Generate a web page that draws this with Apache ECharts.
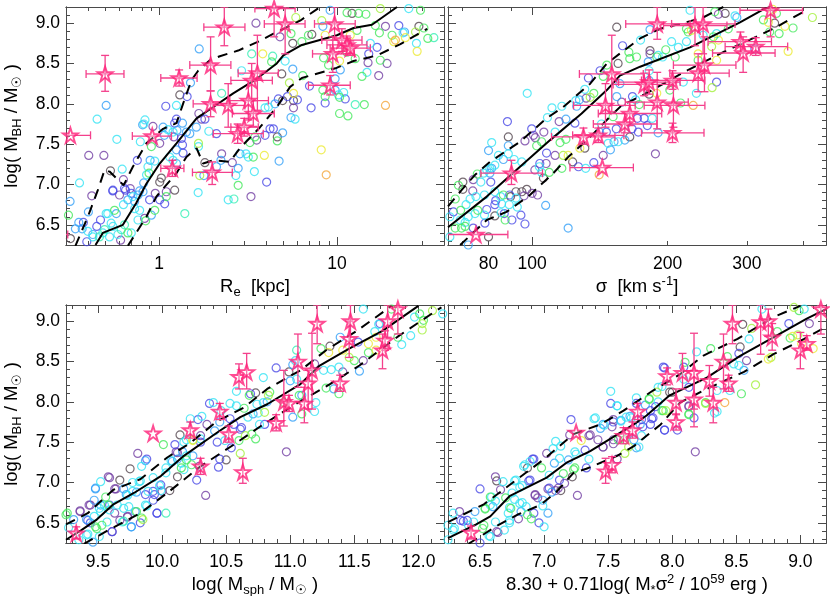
<!DOCTYPE html>
<html>
<head>
<meta charset="utf-8">
<script src="https://cdn.jsdelivr.net/npm/echarts@6/dist/echarts.min.js"></script>
<style>
html, body { margin: 0; padding: 0; background: #fff; }
#main { width: 830px; height: 596px; }
</style>
</head>
<body>
<div id="main"></div>
<script>
// colour classes of the open circles, dark to orange
var circleColors = ['#54464f', '#7340a4', '#4a4ae6', '#35a0f8', '#35e4f4', '#35efb4', '#45e85c', '#a4f03c', '#ecea34', '#f4a83c'];

// circles: [x, log MBH, colour index]. x is log10 for the Re and sigma panels
var reCircles = [
[.226,8.68,3],[.545,9.0,1],[.68,8.83,1],[.752,8.75,0],[.859,8.86,0],[.769,9.07,7],[.742,8.87,6],[.803,8.77,6],[.84,8.85,6],[.521,8.62,5],
[.583,8.62,8],[.639,8.59,5],[.633,8.52,6],[.709,8.53,4],[.69,8.37,0],[.752,8.43,3],[.808,8.35,6],[.733,8.26,7],[.464,8.41,4],[.352,8.13,5],
[.177,8.26,3],[.117,8.11,0],[.158,8.09,2],[.038,7.97,2],[.098,7.98,4],[-.297,7.98,3],[-.348,7.81,4],[-.237,7.56,4],[-.395,7.36,1],[-.31,7.36,1],
[-.273,7.17,0],[-.447,7.02,4],[-.207,7.19,4],[-.378,6.86,1],[-.5,6.79,3],[-.397,6.66,3],[-.509,6.62,6],[-.451,6.53,3],[-.425,6.53,2],[-.47,6.45,3],
[-.432,6.45,3],[-.35,6.48,2],[-.329,6.56,2],[-.498,6.33,0],[-.406,6.29,2],[-.372,6.38,3],[-.297,6.64,4],[-.25,6.68,6],[-.24,6.64,3],[-.26,6.92,2],
[-.2,7.06,1],[-.188,6.93,2],[-.162,6.95,1],[-.222,6.87,1],[-.175,6.81,3],[-.2,6.75,4],[-.147,6.85,4],[-.118,6.87,3],[-.09,6.91,3],[-.086,7.02,3],
[-.056,7.14,6],[-.07,7.12,4],[-.122,7.3,2],[-.062,7.22,4],[-.024,7.29,4],[-.05,7.3,3],[-.085,7.75,4],[-.092,7.74,3],[-.079,7.8,4],[-.105,7.53,4],
[-.034,7.72,1],[-.043,7.47,6],[.004,7.51,1],[.023,7.71,3],[.05,7.68,4],[.03,7.61,3],[.088,7.76,2],[.098,7.81,2],[.079,7.65,4],[.101,7.67,3],
[.132,7.76,3],[.083,7.59,1],[.154,7.65,3],[.126,7.57,2],[.173,7.63,3],[.132,7.49,2],[.135,7.39,2],[.098,7.43,3],[.06,7.34,4],[.098,7.26,3],
[.079,7.3,4],[.21,7.71,3],[.224,7.88,1],[.258,7.81,2],[.239,7.81,1],[.222,7.51,7],[.222,7.47,4],[.28,7.66,4],[.323,7.63,2],[.352,7.38,1],
[.258,7.27,0],[.229,7.11,7],[.252,7.11,3],[.323,7.22,3],[.348,7.3,3],[.412,7.27,1],[.445,7.2,3],[.432,7.11,4],[.445,6.99,6],[.22,6.9,4],
[.389,6.81,4],[.421,6.82,5],[.517,6.85,1],[.605,7.03,2],[.675,7.29,3],[.536,7.16,4],[.53,7.34,6],[.502,7.34,4],[.489,7.38,4],[.455,7.38,3],
[.592,7.36,8],[.665,7.59,0],[.665,7.54,6],[.695,7.64,3],[.596,7.61,2],[.643,7.69,2],[.624,7.69,2],[.549,7.55,1],[.511,7.52,6],[.539,7.59,6],
[.596,7.95,4],[.615,7.96,4],[.652,8.0,3],[.671,8.06,2],[.695,8.04,0],[.722,8.09,2],[.756,8.04,0],[.756,8.13,8],[.778,8.05,2],[.756,7.95,1],
[.742,7.83,3],[.765,7.81,4],[.855,7.95,2],[.846,8.22,2],[.934,8.01,2],[.921,8.17,6],[.934,8.09,6],[.99,8.31,3],[.99,8.17,3],[1.009,8.11,4],
[1.015,8.08,6],[1.047,8.06,2],[1.038,8.14,4],[1.103,7.99,5],[1.154,7.99,6],[1.015,7.88,6],[1.062,7.85,6],[1.273,7.98,9],[.912,7.43,8],[.94,7.12,9],
[1.019,8.42,3],[.953,8.48,6],[.925,8.57,6],[1.015,8.53,8],[.962,9.16,3],[.915,9.03,7],[.921,8.96,3],[.934,8.85,8],[1.085,9.12,0],[1.057,9.13,6],
[1.122,9.12,6],[1.163,9.11,6],[1.113,8.91,6],[1.075,8.85,8],[1.216,8.97,6],[1.273,8.96,1],[1.348,8.97,2],[1.239,8.88,6],[1.31,8.85,6],[1.38,8.89,3],
[1.372,8.88,4],[1.461,8.96,0],[1.442,8.89,7],[1.489,8.94,6],[1.511,8.81,6],[1.545,8.82,5],[1.447,8.75,4],[1.451,8.65,8],[1.385,8.82,8],[1.32,8.77,8],
[1.329,8.79,9],[1.244,8.54,6],[1.282,8.5,1],[1.175,8.51,1],[1.235,8.35,1],[1.169,8.39,4],[1.141,8.34,6],[1.226,8.7,2],[1.179,8.62,2],[1.188,8.75,4],
[1.103,8.56,6],[1.056,8.64,6],[1.404,9.18,4],[1.47,9.16,6],[1.244,9.18,7],[-.259,6.93,2],[-.194,6.95,2],[-.156,6.89,2],[-.109,6.92,3],[-.137,6.79,3],
[-.109,6.68,4],[-.137,6.7,4],[-.288,6.64,4],[-.4,6.42,4],[-.372,6.35,4],[-.316,6.4,4],[-.259,6.48,4],[-.269,6.52,4],[-.212,6.44,5],[-.194,6.5,5],
[-.231,6.38,4],[-.278,6.35,4],[-.216,6.31,1],[-.175,6.4,6],[-.156,6.4,4],[-.118,6.56,4],[-.075,6.55,6],[-.024,6.68,6],[-.043,6.62,3],[.032,6.76,2],
[-.053,6.81,2],[-.021,6.89,1],[.004,6.81,2],[.041,6.85,6],[.088,6.93,0],[.041,6.91,1],[.013,7.08,0],[.004,7.03,0],[.145,6.64,5],[-.306,6.44,5],
[-.335,6.35,5],[-.081,6.58,1]
];

var sigmaCircles = [
[2.188,8.95,0],[2.262,8.92,3],[2.241,8.79,4],[2.201,8.72,2],[2.262,8.66,0],[2.262,8.62,1],[2.215,8.64,6],[2.217,8.56,6],[2.232,8.58,6],[2.258,8.52,3],
[2.277,8.58,6],[2.29,8.58,4],[2.297,8.67,6],[2.31,8.77,4],[2.325,8.7,4],[2.343,8.77,4],[2.318,8.58,6],[2.28,8.6,4],[2.191,8.5,0],[2.166,8.48,6],
[2.151,8.41,2],[2.158,8.34,6],[2.125,8.32,2],[2.26,8.41,4],[2.26,8.29,3],[2.195,8.25,3],[2.117,8.18,4],[2.137,8.13,6],[2.12,8.07,1],[2.129,8.08,7],
[1.989,8.13,4],[2.097,8.04,4],[2.105,8.05,3],[2.099,7.97,3],[2.066,7.97,4],[2.044,7.95,4],[2.034,7.83,4],[2.075,7.81,3],[2.06,7.78,1],[2.095,7.76,2],
[1.945,7.78,2],[1.999,7.69,2],[2.026,7.65,1],[2.003,7.61,1],[2.007,7.58,1],[2.051,7.65,4],[1.947,7.59,0],[1.91,7.52,4],[1.947,7.48,3],[1.984,7.54,1],
[1.903,7.42,3],[2.01,7.48,6],[2.021,7.53,6],[2.062,7.52,6],[2.075,7.56,6],[2.032,7.39,2],[2.051,7.36,1],[2.069,7.36,7],[2.08,7.36,8],[1.925,7.36,4],
[1.947,7.38,4],[1.96,7.31,4],[1.936,7.31,3],[1.917,7.24,4],[1.906,7.2,4],[2.017,7.26,2],[2.031,7.26,1],[2.016,7.22,4],[2.006,7.18,1],[2.025,7.08,0],
[2.021,7.15,4],[2.038,7.15,6],[2.066,7.2,6],[2.09,7.28,0],[2.103,7.22,2],[2.119,7.2,4],[2.137,7.27,2],[2.158,7.36,1],[2.149,7.12,9],[2.274,7.38,1],
[2.174,7.43,3],[2.117,7.45,0],[2.106,7.45,8],[2.169,7.51,4],[2.182,7.53,3],[2.191,7.53,4],[2.217,7.59,0],[2.206,7.55,3],[2.236,7.65,2],[2.256,7.73,2],
[2.267,7.82,4],[2.249,7.82,2],[2.234,7.82,2],[2.28,7.64,3],[2.222,7.69,2],[2.187,7.69,2],[2.165,7.65,2],[2.15,7.65,3],[2.154,7.75,4],[2.18,7.84,6],
[2.238,7.99,6],[2.223,8.09,2],[2.23,8.05,4],[2.199,8.02,1],[2.188,8.09,3],[2.277,8.13,8],[2.26,8.12,0],[2.306,8.17,6],[2.358,7.98,9],[2.33,8.01,6],
[2.365,8.13,4],[2.4,8.2,7],[2.41,8.27,2],[2.336,8.27,4],[2.569,8.65,8],[2.623,9.07,7],[2.58,8.94,6],[2.562,8.96,8],[2.549,8.87,6],[2.539,9.0,0],
[2.525,9.01,8],[2.514,9.04,6],[2.528,8.89,6],[2.543,9.12,6],[2.495,8.68,2],[2.451,9.09,4],[2.455,9.07,3],[2.414,9.11,1],[2.429,9.12,0],[2.406,9.14,6],
[2.38,8.85,4],[2.436,8.93,6],[2.41,8.87,4],[2.403,8.83,6],[2.414,8.79,8],[2.399,8.71,7],[2.369,8.62,8],[2.41,8.54,8],[2.369,8.54,6],[2.351,9.16,4],
[2.343,8.93,6],[2.347,8.89,6],[2.354,8.91,8],[2.535,9.17,8],[1.977,7.28,4],[1.846,7.03,0],[1.836,6.99,6],[1.869,7.06,1],[1.886,7.03,4],[1.908,7.03,2],
[1.899,7.18,4],[1.892,7.14,4],[1.906,7.14,3],[1.91,7.2,3],[1.878,7.13,6],[1.846,6.94,0],[1.868,6.92,1],[1.894,6.87,4],[1.917,6.91,4],[1.936,6.87,6],
[1.93,6.85,4],[1.829,6.82,6],[1.862,6.82,4],[1.875,6.85,4],[1.853,6.75,4],[1.879,6.68,6],[1.873,6.64,4],[1.899,6.69,2],[1.825,6.66,2],[1.841,6.68,6],
[1.817,6.6,4],[1.858,6.6,4],[1.84,6.56,4],[1.851,6.53,4],[1.829,6.46,6],[1.843,6.46,6],[1.851,6.48,6],[1.895,6.52,2],[1.869,6.46,2],[1.903,6.35,0],
[1.919,6.8,2],[1.932,6.76,4],[1.917,6.75,2],[1.952,6.85,0],[1.95,6.87,2],[1.964,6.91,0],[1.977,6.91,0],[1.988,6.94,0],[1.982,6.86,1],[2.0,6.89,1],
[2.012,6.87,1],[1.964,6.83,4],[1.967,6.72,4],[1.949,6.75,4],[1.938,6.64,2],[1.975,6.62,2],[1.94,6.56,6],[1.931,6.65,4],[1.955,6.56,2],[1.984,6.51,2],
[1.894,6.62,4],[1.917,6.61,0],[2.03,6.74,3],[2.08,6.46,3],[1.817,6.35,4],[1.858,6.25,3]
];

var msphCircles = [
[11.57,9.15,4],[12.19,9.09,4],[12.11,9.13,7],[12.01,9.09,6],[11.97,9.05,4],[12.04,9.01,6],[12.03,8.97,7],[12.03,8.89,7],[11.94,8.82,4],[11.87,8.71,4],
[11.84,8.8,6],[11.79,9.15,6],[11.7,8.97,2],[11.69,8.96,4],[11.66,8.87,4],[11.67,8.8,8],[11.67,8.64,8],[11.61,8.61,6],[11.61,8.72,8],[11.57,8.51,1],
[11.5,8.51,6],[11.54,8.38,3],[11.46,8.55,7],[11.41,8.64,8],[11.31,8.69,0],[11.3,8.61,8],[11.24,8.66,6],[11.39,8.8,3],[11.53,8.74,2],[11.41,8.37,1],
[11.38,8.1,6],[11.34,8.16,3],[11.28,8.17,6],[11.38,8.43,4],[11.32,8.4,4],[11.26,8.39,4],[11.19,8.47,1],[11.05,8.64,5],[11.04,8.51,4],[11.02,8.46,3],
[10.99,8.37,0],[10.89,8.42,2],[10.79,8.3,4],[10.73,8.11,0],[10.69,8.1,2],[10.68,8.08,6],[10.58,8.13,4],[10.53,7.98,4],[10.58,7.95,4],[10.64,7.92,6],
[10.74,7.97,4],[10.79,7.99,4],[10.82,8.0,3],[10.84,8.12,6],[10.83,8.08,7],[10.8,7.87,7],[10.71,7.85,3],[10.75,7.86,4],[10.37,7.98,2],[10.4,7.99,4],
[10.46,7.89,4],[10.31,7.82,4],[10.28,7.78,2],[10.22,7.79,4],[10.35,7.72,1],[10.41,7.64,3],[10.45,7.75,3],[10.53,7.79,2],[10.56,7.72,2],[10.62,7.68,2],
[10.61,7.66,2],[10.67,7.81,4],[10.76,7.72,4],[10.8,7.72,2],[10.7,7.6,6],[10.73,7.54,6],[10.65,7.58,7],[10.6,7.52,6],[10.61,7.36,7],[10.54,7.43,2],
[10.49,7.52,4],[10.43,7.5,2],[10.97,7.38,1],[11.09,7.85,6],[11.02,7.81,3],[11.19,7.88,4],[11.2,7.99,4],[11.09,8.08,3],[11.0,8.26,3],[11.05,8.28,4],
[11.07,8.08,6],[10.95,7.99,6],[10.01,7.47,6],[10.14,7.59,0],[10.1,7.47,2],[10.17,7.5,4],[10.24,7.52,8],[10.3,7.54,4],[10.3,7.58,1],[9.81,7.36,1],
[9.88,7.29,2],[9.87,7.27,3],[9.84,7.2,4],[9.75,7.17,0],[9.59,7.06,1],[9.52,7.01,4],[9.67,7.03,0],[9.48,6.92,3],[9.77,7.0,4],[9.83,7.02,4],
[9.93,7.06,4],[10.03,7.12,4],[10.07,7.27,4],[10.12,7.29,3],[10.12,7.37,1],[10.19,7.33,4],[10.24,7.33,3],[10.23,7.22,6],[10.15,7.18,6],[10.17,7.16,4],
[10.12,7.07,0],[10.27,7.03,2],[10.34,6.84,1],[10.44,7.19,2],[10.5,7.28,0],[10.45,7.29,2],[10.06,6.9,0],[9.98,6.96,4],[9.99,6.9,4],[9.96,6.62,2],
[10.03,6.62,5],[9.94,6.85,2],[9.88,6.71,4],[9.87,6.85,2],[9.83,6.5,2],[9.85,6.54,7],[9.79,6.64,3],[9.73,6.57,1],[9.76,6.45,3],[9.7,6.52,5],
[9.67,6.53,1],[9.61,6.39,2],[9.65,6.72,4],[9.63,6.62,1],[9.58,6.72,6],[9.59,6.66,4],[9.52,6.72,3],[9.44,6.72,1],[9.47,6.78,3],[9.36,6.64,1],
[9.42,6.53,2],[9.44,6.5,2],[9.52,6.64,4],[9.49,6.43,6],[9.53,6.47,6],[9.57,6.51,4],[9.64,6.92,1],[9.7,6.92,3],[9.73,6.84,4],[9.8,6.88,3],
[9.42,6.36,4],[9.46,6.26,3],[9.35,6.29,4],[9.25,6.6,6],[9.27,6.44,4],
[9.48,6.93,3],[9.58,7.07,1],[9.63,6.92,1],[9.36,6.65,1],[9.43,6.72,1],[9.56,6.82,6],[9.51,6.68,4],[9.47,6.58,4],[9.55,6.72,4],[9.59,6.72,2],
[9.41,6.54,3],[9.31,6.54,3],[9.26,6.62,6],[9.48,6.45,6],[9.51,6.33,4],[9.41,6.35,4],[9.61,6.39,1],[9.69,6.51,4],[9.76,6.45,3],[9.73,6.58,1],
[9.84,6.56,6],[9.8,6.64,6],[9.7,6.68,4],[9.74,6.7,4],[9.72,6.85,3],[9.77,6.89,4],[9.82,7.01,4],[9.89,6.89,4],[9.93,6.89,2],[9.87,6.72,4],
[9.93,6.78,2],[9.96,6.62,2],[9.99,6.97,2],[10.0,6.89,1],[10.03,7.18,4],[10.08,7.26,3],[10.15,7.24,4],[10.16,7.38,3],[10.19,7.53,4],[10.24,7.53,7],
[10.3,7.5,2],[10.19,7.28,6],[10.29,7.2,1],[10.11,7.38,1]
];

var energyCircles = [
[8.7,9.15,4],[9.03,9.15,4],[8.99,9.13,6],[8.95,9.17,7],[8.55,8.96,0],[8.82,8.87,6],[8.62,8.91,7],[8.6,8.78,4],[9.07,8.97,1],[8.91,8.97,2],
[8.94,8.81,8],[8.92,8.79,6],[9.1,8.66,8],[9.01,8.72,8],[8.53,8.68,0],[8.52,8.6,2],[8.58,8.51,1],[8.56,8.39,3],[8.48,8.47,4],[8.75,8.53,8],
[8.77,8.55,7],[8.52,8.45,4],[8.65,8.21,7],[8.54,8.1,6],[8.45,8.14,4],[8.41,7.99,9],[8.35,7.88,4],[8.26,7.99,6],[8.19,8.62,4],[8.3,8.66,6],
[8.1,8.49,6],[8.09,8.43,2],[7.93,8.43,2],[7.98,8.12,0],[8.0,8.12,0],[7.88,8.12,7],[7.89,8.18,4],[7.82,8.03,6],[7.72,8.05,4],[7.52,8.13,4],
[7.52,7.98,2],[7.57,7.95,4],[7.4,7.8,4],[7.21,7.78,2],[7.2,7.59,1],[7.29,7.52,8],[7.35,7.58,1],[7.09,7.51,4],[7.02,7.36,1],[7.13,7.45,4],
[6.92,7.29,2],[6.89,7.26,4],[6.84,7.2,4],[6.87,7.18,0],[6.98,7.18,6],[7.25,7.35,4],[7.24,7.18,6],[7.33,7.18,2],[7.35,7.29,4],[7.26,6.84,1],
[7.22,7.07,0],[6.62,7.07,1],[6.63,7.02,0],[6.5,6.92,2],[6.66,6.91,1],[6.77,7.02,4],[6.88,7.02,2],[6.83,6.96,4],[6.34,6.64,1],[6.46,6.64,3],
[6.37,6.52,2],[6.4,6.53,2],[6.54,6.67,6],[6.58,6.82,6],[6.62,6.77,4],[6.7,6.81,6],[6.73,6.69,4],[6.75,6.87,4],[6.81,6.94,4],[6.77,6.79,4],
[6.83,6.75,4],[6.92,6.62,2],[6.99,6.71,4],[6.93,6.85,1],[6.95,6.81,1],[7.03,6.62,3],[6.96,6.5,2],[7.0,6.45,4],[6.9,6.55,6],[6.8,6.55,1],
[6.72,6.62,4],[6.73,6.5,4],[6.64,6.38,1],[6.58,6.33,4],[6.5,6.25,2],[6.69,6.41,4],[6.25,6.47,4],[6.29,6.41,4],[6.25,6.29,4],[6.53,6.47,6],
[7.03,6.92,1],[7.06,6.88,3],[7.09,6.9,1],[7.13,6.9,0],[7.12,7.03,2],[8.18,7.38,1],[7.72,7.43,3],[7.63,7.36,7],[7.57,7.29,1],[7.46,7.44,1],
[7.54,7.53,1],[7.46,7.72,3],[7.54,7.78,1],[7.6,7.76,4],[7.68,7.8,4],[7.76,7.78,2],[7.85,7.8,2],[7.75,7.72,3],[7.83,7.72,2],[7.94,7.65,2],
[8.04,7.65,2],[8.13,7.85,6],[7.92,7.89,6],[7.95,7.89,7],[7.83,7.89,2],[7.76,7.58,4],[7.7,7.53,3],[7.63,7.53,6],[8.35,8.14,4],[8.4,8.48,6],
[8.43,8.56,6],[8.13,7.95,1],[8.13,8.18,2],[8.98,8.83,7],
[6.78,7.03,4],[6.68,7.01,4],[6.59,6.82,4],[6.58,6.72,4],[6.6,6.7,3],[6.54,6.68,6],[6.29,6.62,4],[6.45,6.51,4],[6.41,6.47,4],[6.35,6.53,2],
[6.3,6.43,4],[6.52,6.43,6],[6.57,6.34,4],[6.63,6.39,1],[6.73,6.53,4],[6.62,6.51,4],[6.74,6.68,6],[6.81,6.74,4],[6.86,6.7,4],[6.82,6.64,3],
[6.87,6.6,6],[6.93,6.84,1],[6.99,6.78,3],[6.89,7.03,2],[6.85,7.22,4],[6.91,7.29,2],[7.04,7.09,4],[7.08,7.24,3],[7.12,7.3,4],[7.07,7.42,4],
[7.19,7.28,3],[7.24,7.38,4],[7.32,7.4,2],[7.15,7.11,6],[7.23,7.16,6],[7.16,6.99,1],[7.04,6.93,2],[7.11,6.93,1],
[7.57,7.95,4],[7.39,7.79,4],[7.44,7.67,3],[7.47,7.71,4],[7.53,7.69,1],[7.54,7.75,2],[7.6,7.77,3],[7.64,7.81,4],[7.67,7.82,3],[7.36,7.59,1],
[7.42,7.53,1],[7.46,7.44,1],[7.54,7.48,1],[7.58,7.53,6],[7.72,7.98,2],[7.77,7.69,2],[7.84,7.79,2],[7.79,7.96,3],[7.82,8.04,6],[7.89,8.0,4],
[7.92,8.19,4],[7.87,7.94,2],[7.93,7.89,6],[7.94,8.42,2],[8.09,8.28,4],[8.26,7.98,7],[8.13,7.84,6],[8.17,7.8,2],[7.94,7.65,2],[8.33,7.86,4],
[7.74,7.44,4],[7.66,7.44,7],[8.13,7.94,1]
];

// stars: [x, log MBH, xLow, xHigh, yLow, yHigh], bars stay off when low equals high
var reStars = [
[-.498,7.61,-.612,-.385,7.61,7.61],[-.303,8.37,-.41,-.197,8.155,8.6],[-.038,7.6,-.15,.07,7.6,7.6],[.075,7.2,.01,.14,7.1,7.3],[.113,8.32,.01,.214,8.22,8.42],
[.29,8.48,.173,.404,8.16,8.83],[.367,8.95,.252,.483,8.72,9.2],[.299,7.15,.188,.412,7.0,7.28],[.29,8.0,.192,.398,7.84,8.16],[.389,7.98,.305,.483,7.71,8.25],
[.442,7.63,.305,.586,7.51,7.75],[.479,7.71,.404,.558,7.6,7.82],[.502,8.04,.398,.615,7.8,8.29],[.521,8.29,.404,.637,8.04,8.5],[.553,8.38,.445,.671,7.92,8.85],
[.53,7.88,.412,.648,7.72,8.04],[.647,9.18,.539,.765,8.83,9.2],[.709,8.99,.592,.821,8.62,9.2],[.962,8.23,.84,1.075,8.11,8.35],[.977,8.62,.863,1.098,8.39,8.83],
[.987,8.99,.874,1.103,8.79,9.2],[1.028,8.79,.915,1.141,8.65,8.93],[1.056,8.73,.944,1.169,8.62,8.84],[1.075,8.69,.962,1.188,8.6,8.78],[-.62,6.38,-.72,-.513,6.38,6.38]
];

var sigmaStars = [
[1.875,6.38,1.79,1.946,6.38,6.38],[1.954,7.14,1.886,2.023,7.0,7.3],[2.114,7.59,2.043,2.184,7.5,7.7],[2.147,7.61,2.09,2.204,7.52,7.7],[2.156,7.21,2.084,2.225,7.21,7.21],
[2.163,7.98,2.092,2.229,7.71,8.25],[2.177,8.37,2.105,2.247,7.9,8.85],[2.206,7.75,2.136,2.277,7.64,7.88],[2.217,7.88,2.147,2.288,7.73,8.02],[2.249,8.24,2.18,2.314,8.1,8.38],
[2.26,8.27,2.192,2.329,8.12,8.42],[2.278,8.02,2.207,2.347,7.69,8.39],[2.278,8.99,2.208,2.351,8.8,9.2],[2.312,8.29,2.243,2.384,8.18,8.41],[2.314,7.98,2.249,2.384,7.71,8.26],
[2.312,7.64,2.243,2.382,7.52,7.76],[2.362,8.97,2.292,2.433,8.72,9.2],[2.38,8.99,2.31,2.451,8.62,9.2],[2.369,8.38,2.306,2.438,8.15,8.62],[2.383,8.48,2.314,2.453,8.15,8.83],
[2.463,8.77,2.391,2.532,8.63,8.89],[2.469,8.63,2.401,2.54,8.39,8.83],[2.497,8.71,2.429,2.568,8.6,8.82],[2.53,9.16,2.462,2.601,8.83,9.2]
];

var msphStars = [
[9.33,6.37,9.33,9.33,6.3,6.45],[9.93,7.61,9.93,9.93,7.61,7.61],[10.22,7.65,10.22,10.22,7.55,7.75],[10.3,7.2,10.3,10.3,7.1,7.3],[10.45,7.88,10.45,10.45,7.78,7.98],
[10.52,7.6,10.52,10.52,7.5,7.7],[10.63,7.13,10.63,10.63,6.99,7.3],[10.6,8.31,10.6,10.6,8.16,8.47],[10.66,8.37,10.66,10.66,8.16,8.6],[10.89,7.74,10.89,10.89,7.64,7.84],
[10.95,8.0,10.95,10.95,7.7,8.39],[10.99,7.98,10.99,10.99,7.88,8.08],[11.06,8.5,11.06,11.06,8.18,8.84],[11.11,7.98,11.11,11.11,7.74,8.18],[11.14,8.23,11.14,11.14,7.91,8.39],
[11.17,8.39,11.17,11.17,7.91,8.85],[11.21,8.97,11.21,11.21,8.72,9.2],[11.39,8.23,11.39,11.39,8.13,8.33],[11.46,8.78,11.46,11.46,8.55,9.0],[11.47,9.0,11.47,11.47,8.75,9.2],
[11.72,8.64,11.72,11.72,8.41,8.84],[11.74,8.76,11.74,11.74,8.64,8.88],[11.76,9.0,11.76,11.76,8.8,9.2],[11.84,9.15,11.84,11.84,8.84,9.2]
];

var energyStars = [
[6.43,6.38,6.43,6.43,6.3,6.46],[7.25,7.62,7.25,7.25,7.62,7.62],[7.48,7.14,7.48,7.48,6.99,7.3],[7.53,7.22,7.53,7.53,7.12,7.32],[7.62,7.58,7.62,7.62,7.48,7.68],
[7.69,7.65,7.69,7.69,7.55,7.75],[7.73,7.88,7.73,7.73,7.78,7.98],[7.96,8.32,7.96,7.96,8.21,8.42],[8.03,7.99,8.03,8.03,7.84,8.16],[8.03,7.75,8.03,8.03,7.65,7.85],
[8.08,8.36,8.08,8.08,8.16,8.6],[8.17,8.03,8.17,8.17,7.69,8.39],[8.17,8.36,8.17,8.17,7.91,8.85],[8.29,8.26,8.29,8.29,8.07,8.45],[8.32,7.99,8.32,8.32,7.74,8.18],
[8.4,8.5,8.4,8.4,8.16,8.84],[8.44,8.23,8.44,8.44,8.13,8.33],[8.47,8.97,8.47,8.47,8.72,9.2],[8.69,8.99,8.69,8.69,8.59,9.2],[8.75,9.0,8.75,8.75,8.81,9.15],
[8.78,8.8,8.78,8.78,8.64,8.97],[9.0,8.64,9.0,9.0,8.41,8.86],[9.05,8.72,9.05,9.05,8.64,8.82],[9.16,9.15,9.16,9.16,8.84,9.2]
];

// running mean (solid) and scatter (dashed) lines
var reMean = [[-.357,6.25],[-.316,6.4],[-.203,6.5],[-.128,6.77],[-.071,7.01],[.004,7.26],[.098,7.51],[.211,7.82],[.305,7.96],[.417,8.13],[.549,8.31],[.662,8.5],[.699,8.6],[.803,8.73],[1.0,8.85],[1.094,8.94],[1.197,8.98],[1.338,9.2]];
var reUpper = [[-.47,6.24],[-.4,6.6],[-.344,6.93],[-.306,7.18],[-.278,7.16],[-.199,6.99],[-.147,7.22],[-.071,7.51],[.023,7.69],[.098,7.76],[.135,8.0],[.182,8.29],[.22,8.41],[.286,8.54],[.342,8.59],[.445,8.66],[.558,8.77],[.662,8.89],[.793,9.03],[.906,9.2]];
var reLower = [[-.175,6.24],[-.071,6.6],[-.015,6.85],[.098,7.14],[.154,7.34],[.211,7.45],[.248,7.26],[.305,7.3],[.398,7.28],[.455,7.45],[.568,7.71],[.662,7.96],[.737,8.21],[.803,8.32],[.991,8.44],[1.094,8.53],[1.226,8.6],[1.357,8.74],[1.508,8.93]];

var sigmaMean = [[1.813,6.47],[1.899,6.85],[1.973,7.22],[2.04,7.55],[2.11,7.88],[2.166,8.17],[2.195,8.35],[2.24,8.46],[2.351,8.7],[2.462,9.01],[2.517,9.18],[2.53,9.2]];
var sigmaUpper = [[1.813,6.73],[1.843,6.93],[1.873,7.12],[1.906,7.28],[1.973,7.53],[2.032,7.82],[2.069,7.96],[2.129,8.25],[2.166,8.5],[2.199,8.64],[2.24,8.81],[2.284,8.93],[2.329,8.99],[2.38,9.07],[2.425,9.2]];
var sigmaLower = [[1.84,6.25],[1.899,6.56],[1.943,6.66],[1.995,6.87],[2.047,7.14],[2.08,7.34],[2.129,7.59],[2.173,7.84],[2.199,7.98],[2.254,8.13],[2.343,8.41],[2.432,8.66],[2.536,8.93],[2.603,9.14]];

var msphMean = [[9.25,6.29],[9.37,6.41],[9.49,6.54],[9.62,6.73],[9.78,6.87],[9.99,7.08],[10.17,7.33],[10.43,7.62],[10.61,7.81],[10.82,7.97],[11.08,8.22],[11.23,8.45],[11.46,8.66],[11.72,8.88],[12.0,9.19]];
var msphUpper = [[9.25,6.48],[9.42,6.62],[9.62,6.91],[9.83,7.04],[10.04,7.31],[10.22,7.49],[10.43,7.76],[10.64,7.93],[10.82,8.16],[11.08,8.39],[11.28,8.64],[11.52,8.88],[11.74,9.13],[11.79,9.19]];
var msphLower = [[9.39,6.24],[9.57,6.4],[9.83,6.62],[10.04,6.87],[10.3,7.2],[10.56,7.47],[10.79,7.72],[11.02,7.95],[11.31,8.22],[11.54,8.45],[11.85,8.82],[12.14,9.13],[12.18,9.17]];

var energyMean = [[6.25,6.31],[6.47,6.48],[6.58,6.58],[6.73,6.83],[7.02,7.06],[7.18,7.25],[7.36,7.39],[7.7,7.72],[7.8,7.83],[7.98,8.08],[8.27,8.3],[8.53,8.57],[8.79,8.8],[9.05,9.03],[9.2,9.15]];
var energyUpper = [[6.25,6.51],[6.53,6.73],[6.79,7.04],[7.0,7.29],[7.23,7.6],[7.44,7.72],[7.62,7.89],[7.85,8.14],[8.06,8.34],[8.24,8.57],[8.51,8.78],[8.79,9.05],[9.0,9.19]];
var energyLower = [[6.41,6.24],[6.63,6.46],[6.79,6.6],[6.97,6.72],[7.1,6.89],[7.23,7.12],[7.33,7.17],[7.57,7.33],[7.7,7.45],[7.91,7.72],[8.06,7.99],[8.27,8.16],[8.56,8.37],[8.79,8.59],[9.03,8.78],[9.2,8.93]];

// tick lists
var yMajorTicks = [6.5, 7, 7.5, 8, 8.5, 9];
var yMinorTicks = [6.3, 6.4, 6.6, 6.7, 6.8, 6.9, 7.1, 7.2, 7.3, 7.4, 7.6, 7.7, 7.8, 7.9, 8.1, 8.2, 8.3, 8.4, 8.6, 8.7, 8.8, 8.9, 9.1, 9.2];
var reLabels = [1, 10];
var reMinor = [.3, .4, .5, .6, .7, .8, .9, 2, 3, 4, 5, 6, 7, 8, 9, 20, 30, 40];
var sigmaLabels = [80, 100, 200, 300];
var sigmaMajor = [100];
var sigmaMinor = [70, 80, 90, 200, 300, 400];
var msphLabels = [9.5, 10, 10.5, 11, 11.5, 12];
var msphMinor = [9.3, 9.4, 9.6, 9.7, 9.8, 9.9, 10.1, 10.2, 10.3, 10.4, 10.6, 10.7, 10.8, 10.9, 11.1, 11.2, 11.3, 11.4, 11.6, 11.7, 11.8, 11.9, 12.1, 12.2];
var energyLabels = [6.5, 7, 7.5, 8, 8.5, 9];
var energyMinor = [6.3, 6.4, 6.6, 6.7, 6.8, 6.9, 7.1, 7.2, 7.3, 7.4, 7.6, 7.7, 7.8, 7.9, 8.1, 8.2, 8.3, 8.4, 8.6, 8.7, 8.8, 8.9, 9.1, 9.2];

var nameMbh = 'log( M{sub|BH} / M{sub|\u2609} )';
var nameRe = 'R{sub|e}  [kpc]';
var nameSigma = '\u03c3  [km s{sup|-1}]';
var nameMsph = 'log( M{sub|sph} / M{sub|\u2609} )';
var nameEnergy = '8.30 + 0.71log( M{sub|*}\u03c3{sup|2} / 10{sup|59} erg )';

var starPath = 'path://M50 2 L61 36 L97 36 L68 57 L79 92 L50 70 L21 92 L32 57 L3 36 L39 36 Z';
var frameColor = '#4a4a4a';
var pink = '#ff1f78';
var barPink = '#f4408c';
var font = 'Liberation Sans, Arial, sans-serif';

function log10All(arr) {
    return arr.map(function(v) { return Math.log10(v); });
}
function powLabel(v) {
    return String(Math.round(Math.pow(10, v)));
}
function oneDecimal(v) {
    return Number(v).toFixed(1);
}

var panels = [
    { left: 66, top: 7, xMin: Math.log10(.3), xMax: Math.log10(40), major: log10All(reLabels), minor: log10All(reMinor), labels: log10All(reLabels), fmt: powLabel, xName: nameRe, yLabel: true, circles: reCircles, stars: reStars, mean: reMean, upper: reUpper, lower: reLower },
    { left: 448, top: 7, xMin: Math.log10(65), xMax: Math.log10(450), major: log10All(sigmaMajor), minor: log10All(sigmaMinor), labels: log10All(sigmaLabels), fmt: powLabel, xName: nameSigma, yLabel: false, circles: sigmaCircles, stars: sigmaStars, mean: sigmaMean, upper: sigmaUpper, lower: sigmaLower },
    { left: 66, top: 305, xMin: 9.25, xMax: 12.2, major: msphLabels, minor: msphMinor, labels: msphLabels, fmt: oneDecimal, xName: nameMsph, yLabel: true, circles: msphCircles, stars: msphStars, mean: msphMean, upper: msphUpper, lower: msphLower },
    { left: 448, top: 305, xMin: 6.25, xMax: 9.2, major: energyLabels, minor: energyMinor, labels: energyLabels, fmt: oneDecimal, xName: nameEnergy, yLabel: false, circles: energyCircles, stars: energyStars, mean: energyMean, upper: energyUpper, lower: energyLower }
];

var richName = {
    sub: { fontSize: 13, fontFamily: font, color: '#000', verticalAlign: 'bottom', lineHeight: 24 },
    sup: { fontSize: 13, fontFamily: font, color: '#000', verticalAlign: 'top', lineHeight: 24 }
};

function tickAxis(gridIndex, position, min, max, ticks, length) {
    return {
        type: 'value',
        gridIndex: gridIndex,
        position: position,
        min: min,
        max: max,
        splitLine: { show: false },
        axisLine: { show: true, onZero: false, lineStyle: { color: frameColor, width: 1 } },
        axisTick: { show: true, inside: true, length: length, customValues: ticks, lineStyle: { color: frameColor, width: 1 } },
        axisLabel: { show: false }
    };
}

function errorBars(params, api) {
    var c = api.coord([api.value(0), api.value(1)]);
    var lo = api.coord([api.value(2), api.value(4)]);
    var hi = api.coord([api.value(3), api.value(5)]);
    var cap = 4;
    var style = { stroke: barPink, lineWidth: 1.3, fill: null };
    var parts = [];
    function add(x1, y1, x2, y2) {
        parts.push({ type: 'line', shape: { x1: x1, y1: y1, x2: x2, y2: y2 }, style: style });
    }
    if (hi[0] - lo[0] > 0.5) {
        add(lo[0], c[1], hi[0], c[1]);
        add(lo[0], c[1] - cap, lo[0], c[1] + cap);
        add(hi[0], c[1] - cap, hi[0], c[1] + cap);
    }
    if (lo[1] - hi[1] > 0.5) {
        add(c[0], lo[1], c[0], hi[1]);
        add(c[0] - cap, lo[1], c[0] + cap, lo[1]);
        add(c[0] - cap, hi[1], c[0] + cap, hi[1]);
    }
    return { type: 'group', children: parts };
}

var grid = [], xAxis = [], yAxis = [], series = [];

panels.forEach(function(p, i) {
    grid.push({ left: p.left, top: p.top, width: 378, height: 238, containLabel: false, outerBoundsMode: 'none' });

    var xIdx = xAxis.length, yIdx = yAxis.length;

    var xMain = tickAxis(i, 'bottom', p.xMin, p.xMax, p.major, 8);
    xMain.axisLabel = { show: true, customValues: p.labels, formatter: p.fmt, fontSize: 17.5, fontFamily: font, color: '#000', margin: 10 };
    xMain.name = p.xName;
    xMain.nameLocation = 'middle';
    xMain.nameGap = 30;
    xMain.nameMoveOverlap = false;
    xMain.nameTextStyle = { fontSize: 18.5, fontFamily: font, color: '#000', lineHeight: 24, rich: richName };
    xAxis.push(xMain);
    xAxis.push(tickAxis(i, 'top', p.xMin, p.xMax, p.major, 8));
    xAxis.push(tickAxis(i, 'bottom', p.xMin, p.xMax, p.minor, 4));
    xAxis.push(tickAxis(i, 'top', p.xMin, p.xMax, p.minor, 4));

    var yMain = tickAxis(i, 'left', 6.25, 9.2, yMajorTicks, 8);
    if (p.yLabel) {
        yMain.axisLabel = { show: true, customValues: yMajorTicks, formatter: oneDecimal, fontSize: 17.5, fontFamily: font, color: '#000', margin: 6 };
        yMain.name = nameMbh;
        yMain.nameLocation = 'middle';
        yMain.nameRotate = 90;
        yMain.nameGap = 42;
        yMain.nameMoveOverlap = false;
        yMain.nameTextStyle = { fontSize: 18.5, fontFamily: font, color: '#000', lineHeight: 24, rich: richName };
    }
    yAxis.push(yMain);
    yAxis.push(tickAxis(i, 'right', 6.25, 9.2, yMajorTicks, 8));
    yAxis.push(tickAxis(i, 'left', 6.25, 9.2, yMinorTicks, 4));
    yAxis.push(tickAxis(i, 'right', 6.25, 9.2, yMinorTicks, 4));

    circleColors.forEach(function(col, c) {
        series.push({
            type: 'scatter',
            xAxisIndex: xIdx,
            yAxisIndex: yIdx,
            symbol: 'circle',
            symbolSize: 8,
            clip: true,
            silent: true,
            z: 2,
            itemStyle: { color: 'transparent', borderColor: col, borderWidth: 1.2 },
            data: p.circles.filter(function(d) { return d[2] === c; }).map(function(d) { return [d[0], d[1]]; })
        });
    });

    [[p.mean, 'solid'], [p.upper, [10, 7]], [p.lower, [10, 7]]].forEach(function(l) {
        series.push({
            type: 'line',
            xAxisIndex: xIdx,
            yAxisIndex: yIdx,
            showSymbol: false,
            clip: true,
            silent: true,
            z: 3,
            lineStyle: { color: '#000', width: 2, type: l[1] },
            data: l[0]
        });
    });

    series.push({
        type: 'custom',
        xAxisIndex: xIdx,
        yAxisIndex: yIdx,
        clip: true,
        silent: true,
        z: 4,
        renderItem: errorBars,
        encode: { x: [0, 2, 3], y: [1, 4, 5] },
        data: p.stars
    });
    series.push({
        type: 'scatter',
        xAxisIndex: xIdx,
        yAxisIndex: yIdx,
        symbol: starPath,
        symbolSize: 15,
        clip: true,
        silent: true,
        z: 5,
        itemStyle: { color: 'rgba(255,255,255,0.35)', borderColor: pink, borderWidth: 1.9 },
        data: p.stars.map(function(s) { return [s[0], s[1]]; })
    });
});

var chart = echarts.init(document.getElementById('main'), null, { renderer: 'canvas' });
chart.setOption({
    animation: false,
    backgroundColor: '#fff',
    tooltip: { show: false },
    legend: { show: false },
    grid: grid,
    xAxis: xAxis,
    yAxis: yAxis,
    series: series
});
</script>
</body>
</html>
